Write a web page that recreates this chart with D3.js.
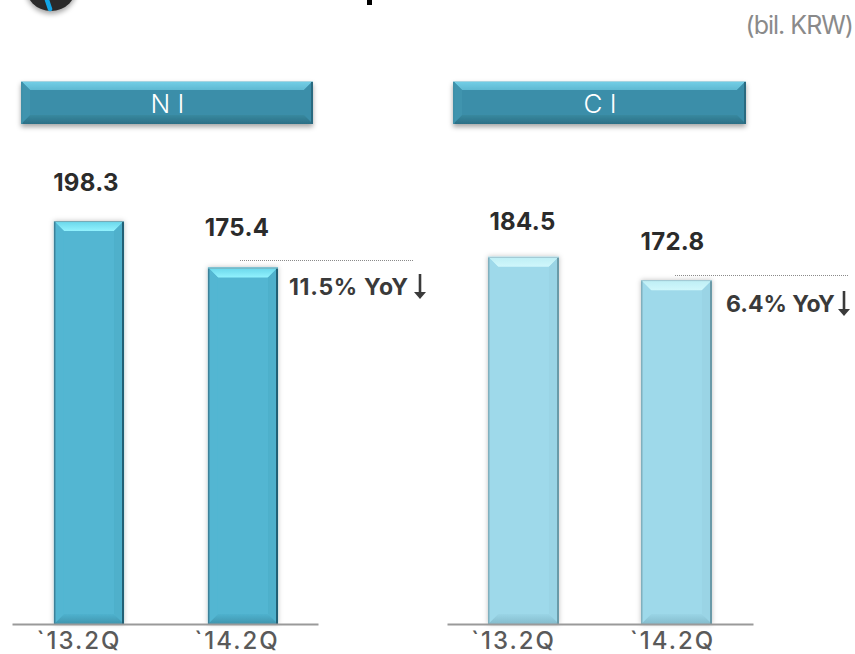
<!DOCTYPE html>
<html>
<head>
<meta charset="utf-8">
<script src="https://cdn.jsdelivr.net/npm/d3@7"></script>
<style>
  html, body { margin: 0; padding: 0; background: #fff; overflow: hidden; }
  svg { display: block; }
  text { font-family: "Inter", "Roboto", sans-serif; }
</style>
</head>
<body>
<script>
// Quarterly figures in billions of KRW
const periods = ["`13.2Q", "`14.2Q"];
const niValues = [198.3, 175.4];
const ciValues = [184.5, 172.8];
const niChange = "11.5% YoY";
const ciChange = "6.4% YoY";
const unitLabel = "(bil. KRW)";

const width = 855, height = 654;
const baseline = 624;

const svg = d3.select("body").append("svg")
  .attr("width", width).attr("height", height);

const defs = svg.append("defs");

const bannerShadow = defs.append("filter").attr("id", "bannerShadow")
  .attr("x", "-5%").attr("y", "-20%").attr("width", "110%").attr("height", "150%");
bannerShadow.append("feDropShadow")
  .attr("dx", 0).attr("dy", 3).attr("stdDeviation", 2.5)
  .attr("flood-color", "#000").attr("flood-opacity", 0.35);

const barShadow = defs.append("filter").attr("id", "barShadow")
  .attr("x", "-20%").attr("y", "-5%").attr("width", "140%").attr("height", "110%");
barShadow.append("feDropShadow")
  .attr("dx", 0).attr("dy", 0).attr("stdDeviation", 2.5)
  .attr("flood-color", "#000").attr("flood-opacity", 0.25);

function verticalGradient(id, from, to) {
  const grad = defs.append("linearGradient").attr("id", id)
    .attr("x1", 0).attr("y1", 0).attr("x2", 0).attr("y2", 1);
  grad.append("stop").attr("offset", "0%").attr("stop-color", from);
  grad.append("stop").attr("offset", "100%").attr("stop-color", to);
}
verticalGradient("niTop", "#68d6ea", "#92f2fe");
verticalGradient("ciTop", "#bdeef5", "#d0f7fb");
verticalGradient("bannerTop", "#74d0e8", "#5fb9d2");
verticalGradient("niBottom", "#4fb2ce", "#3f95ae");
verticalGradient("ciBottom", "#9ad5e6", "#84bccd");
verticalGradient("bannerBottom", "#38899f", "#2c6f86");

// Bevelled rectangle: a face, four mitred edges and thin rims on the sides
function bevel(g, x, y, w, h, d, colors) {
  const facets = [
    [[x, y], [x + w, y], [x + w - d, y + d], [x + d, y + d]],
    [[x + w, y], [x + w, y + h], [x + w - d, y + h - d], [x + w - d, y + d]],
    [[x, y + h], [x + w, y + h], [x + w - d, y + h - d], [x + d, y + h - d]],
    [[x, y], [x, y + h], [x + d, y + h - d], [x + d, y + d]]
  ];
  g.append("rect").attr("x", x).attr("y", y).attr("width", w).attr("height", h)
    .attr("fill", colors.face);
  g.selectAll("polygon").data(facets).join("polygon")
    .attr("points", d => d.join(" "))
    .attr("fill", (d, i) => [colors.top, colors.right, colors.bottom, colors.left][i]);
  g.append("rect").attr("x", x + w - 2).attr("y", y + 1).attr("width", 2).attr("height", h - 1)
    .attr("fill", colors.rimRight);
  g.append("rect").attr("x", x).attr("y", y + 1).attr("width", 1.5).attr("height", h - 1)
    .attr("fill", colors.rimLeft);
  g.append("rect").attr("x", x).attr("y", y).attr("width", w).attr("height", 1)
    .attr("fill", colors.rimTop);
}

function panel(cfg) {
  const g = svg.append("g");
  const x = d3.scaleBand().domain(periods).range(cfg.axis)
    .paddingInner(cfg.padding[0]).paddingOuter(cfg.padding[1]).align(cfg.padding[2]);
  const y = d3.scaleLinear().domain([0, cfg.domainMax])
    .range([baseline, baseline - cfg.domainMax * cfg.pxPerUnit]);

  // Section banner
  const banner = g.append("g").attr("filter", "url(#bannerShadow)");
  bevel(banner, cfg.banner[0], 81, cfg.banner[1], 43, 9, {
    face: "#3a8ea9", top: "url(#bannerTop)", right: "#3a8ea9", bottom: "url(#bannerBottom)", left: "#3f94ae",
    rimRight: "#2c6a80", rimLeft: "#3f8fa8", rimTop: "#a8d4e0"
  });
  g.append("text").attr("x", cfg.banner[0] + cfg.banner[1] / 2 + 0.5).attr("y", 113)
    .attr("text-anchor", "middle").attr("fill", "#fff")
    .attr("font-size", 26).attr("font-weight", 300)
    .text(cfg.title);

  // Bars
  cfg.values.forEach((v, i) => {
    const bar = g.append("g").attr("filter", "url(#barShadow)");
    const bx = x(periods[i]), by = y(v);
    bevel(bar, bx, by, x.bandwidth(), baseline - by, 10, cfg.colors);
  });

  // Baseline and period labels
  const axis = g.append("g").attr("transform", `translate(0,${baseline})`)
    .call(d3.axisBottom(x).tickSize(0).tickPadding(8));
  axis.select(".domain").attr("stroke", "#9a9a9a").attr("stroke-width", 2);
  axis.selectAll("text").attr("fill", "#5a5a5a").attr("font-size", 24)
    .attr("font-weight", 500).style("letter-spacing", "2px")
    .attr("dx", (d, i) => cfg.tickShift[i]);

  // Value labels
  g.selectAll(".value").data(cfg.values).join("text").attr("class", "value")
    .attr("x", (d, i) => x(periods[i]) + x.bandwidth() / 2 + cfg.labelShift[i])
    .attr("y", (d, i) => y(d) - cfg.labelGap[i])
    .attr("text-anchor", "middle").attr("fill", "#2b2b2b")
    .attr("font-size", 24).attr("font-weight", 700)
    .style("letter-spacing", "0.3px")
    .text(d => d.toFixed(1));

  // Year-on-year callout with its dotted guide and down arrow
  g.append("line").attr("x1", cfg.guide[0]).attr("x2", cfg.guide[1])
    .attr("y1", cfg.guide[2]).attr("y2", cfg.guide[2])
    .attr("stroke", "#8a8a8a").attr("stroke-width", 1).attr("stroke-dasharray", "1 1");
  g.append("text").attr("x", cfg.change[0]).attr("y", cfg.change[1])
    .attr("fill", "#3a3a3a").attr("font-size", 23).attr("font-weight", 700)
    .style("letter-spacing", cfg.changeSpacing)
    .text(cfg.changeText);
  const ax = cfg.arrow[0], ay = cfg.arrow[1];
  g.append("path").attr("d", `M${ax},${ay}V${ay + 20}`)
    .attr("stroke", "#3a3a3a").attr("stroke-width", 2.6);
  g.append("path").attr("d", `M${ax - 6},${ay + 18}H${ax + 6}L${ax},${ay + 25}Z`)
    .attr("fill", "#3a3a3a");
}

panel({
  title: "N I", values: niValues, axis: [12, 318], banner: [21, 292],
  padding: [0.545, 0.266, 0.512], domainMax: 200, pxPerUnit: 2.032,
  colors: { face: "#52b6d2", top: "url(#niTop)", right: "#4fb0cb", bottom: "url(#niBottom)", left: "#52b6d2",
    rimRight: "#215f74", rimLeft: "#3c8199", rimTop: "#7aa9b5" },
  labelShift: [-3, -6], labelGap: [30, 32], tickShift: [-10, -6],
  guide: [240, 414, 260.5], change: [289, 295], changeText: niChange, changeSpacing: "0.7px", arrow: [420, 274]
});

panel({
  title: "C I", values: ciValues, axis: [447, 753], banner: [453, 293],
  padding: [0.536, 0.268, 0.5], domainMax: 200, pxPerUnit: 1.99,
  colors: { face: "#9ed9ea", top: "url(#ciTop)", right: "#9ad4e5", bottom: "url(#ciBottom)", left: "#9ed9ea",
    rimRight: "#6a9aa8", rimLeft: "#80b0be", rimTop: "#9fc5d0" },
  labelShift: [-1, -4], labelGap: [27, 30], tickShift: [-10, -4],
  guide: [675, 849, 275.5], change: [726, 312], changeText: ciChange, changeSpacing: "0px", arrow: [844, 291]
});

// Unit note
svg.append("text").attr("x", 853).attr("y", 34).attr("text-anchor", "end")
  .attr("fill", "#8a8a8a").attr("font-size", 25).style("letter-spacing", "-1px").text(unitLabel);

// Badge and title stem running off the top edge
const badge = svg.append("g").attr("filter", "url(#bannerShadow)");
badge.append("circle").attr("cx", 51).attr("cy", -15).attr("r", 26).attr("fill", "#2a2a2a");
svg.append("path").attr("d", "M47,0L50,9").attr("stroke", "#12a5e6").attr("stroke-width", 4.5)
  .attr("stroke-linecap", "round").attr("fill", "none");
svg.append("rect").attr("x", 367).attr("y", 0).attr("width", 5).attr("height", 5).attr("fill", "#000");
</script>
</body>
</html>
